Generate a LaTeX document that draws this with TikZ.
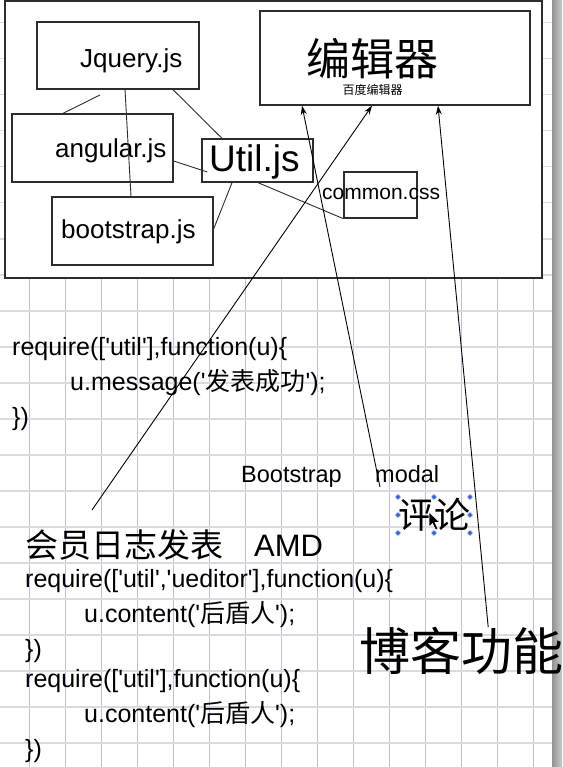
\documentclass[tikz,border=0pt]{standalone}
\usepackage{fontspec}
\setmainfont{Liberation Sans}[Ligatures=TeXOff]
\newfontfamily\cjk{Noto Sans CJK SC}
\usepackage{tikz}
\usetikzlibrary{arrows.meta}
\usepackage{xcolor}
\definecolor{gridh}{RGB}{218,218,224}
\definecolor{gridv}{RGB}{190,190,225}
\definecolor{boxline}{RGB}{45,45,45}
\definecolor{handle}{RGB}{55,95,200}
\tikzstyle{arrow} = [->,>={Stealth[length=9pt,width=6pt]},line width=0.9pt,color=black]
\tikzstyle{link} = [line width=0.9pt,color=boxline]
\tikzstyle{libbox} = [rectangle, draw=boxline, line width=1.3pt, fill=white, inner sep=0pt]
\tikzstyle{lbl} = [anchor=base west, inner sep=0pt]
\tikzstyle{code} = [anchor=base west, inner sep=0pt, font=\fontsize{25}{30}\selectfont]

\begin{document}
\begin{tikzpicture}[x=1pt, y=-1pt]
\useasboundingbox (0,0) rectangle (562,767);
% Grid paper
\foreach \gx in {0,...,14}
  \draw[gridv, line width=0.7pt] ({29.7+36*\gx},0) -- ({29.7+36*\gx},767);
\foreach \gy in {0,...,20}
  \draw[gridh, line width=1.6pt] (0,{22.7+36*\gy}) -- (552,{22.7+36*\gy});
\shade[left color=gray!85, right color=gray!40] (552,0) rectangle (562,767);

% Outer frame
\node[libbox, line width=1.6pt, minimum width=537pt, minimum height=277pt] (frame) at (273.5,139.5) {};

% Library boxes
\node[libbox, minimum width=162pt, minimum height=67pt] (jquery) at (118,55.5) {};
\node[libbox, minimum width=161pt, minimum height=68pt] (angular) at (92.5,148) {};
\node[libbox, minimum width=161pt, minimum height=68pt] (boot) at (132.5,231) {};
\node[libbox, minimum width=111pt, minimum height=43pt] (util) at (257.5,160.5) {};
\node[libbox, minimum width=270pt, minimum height=94pt] (editor) at (395,58) {};
\node[libbox, minimum width=73pt, minimum height=46pt] (css) at (380.5,195) {};

% Box texts
\node[lbl, font=\fontsize{26}{30}\selectfont] (jquery-t) at (80,67.5) {Jquery.js};
\node[lbl, font=\fontsize{26}{30}\selectfont] (angular-t) at (55,158) {angular.js};
\node[lbl, font=\fontsize{26}{30}\selectfont] (boot-t) at (61,238) {bootstrap.js};
\node[lbl, font=\fontsize{37}{40}\selectfont] (util-t) at (209,172) {Util.js};
\node[lbl, font=\fontsize{21}{24}\selectfont] (css-t) at (322,200) {common.css};
\node[font=\cjk\fontsize{44}{48}\selectfont] (editor-t) at (372,58.5) {编辑器};
\node[font=\cjk\fontsize{12}{14}\selectfont] (editor-s) at (372.5,90) {百度编辑器};

% Free ends
\coordinate (jqtail) at (100,95);
\coordinate (amdtail) at (92,510);
\coordinate (modaltail) at (380,487);

% Links between libraries
\draw[link] ([xshift=7pt]jquery.south) -- ([xshift=-1.5pt]boot.north);
\draw[link] (jqtail) -- ([xshift=-29.5pt]angular.north);
\draw[link] ([xshift=55pt]jquery.south) -- ([xshift=-35.5pt]util.north);
\draw[link] ([yshift=-13pt]angular.east) -- ([xshift=6pt,yshift=-11.5pt]util.west);
\draw[link] ([xshift=-25.5pt]util.south) -- ([yshift=2pt]boot.east);
\draw[link] ([xshift=0.5pt]util.south) -- (css.south west);

% Message code
\node[code] (msg1) at (12,355) {require(['util'],function(u)\{};
\node[code] (msg2) at (70,390) {u.message('{\cjk 发表成功}');};
\node[code] (msg3) at (12,425) {\})};

% Comment
\node[lbl, font=\fontsize{23.5}{28}\selectfont] (bs) at (241,482) {Bootstrap};
\node[lbl, font=\fontsize{23.5}{28}\selectfont] (modal) at (375,482) {modal};
\node[font=\cjk\fontsize{36}{40}\selectfont] (comment) at (434,515) {评论};
\foreach \hx/\hy in {398/497, 434/497, 470/497, 398/515, 470/515, 398/533, 434/533, 470/533}
  \filldraw[fill=handle, draw=handle!35, line width=0.8pt] (\hx,\hy) circle (2.4pt);
\filldraw[fill=black, draw=white, line width=0.6pt] (429,512) -- (429,527) -- (432.5,523.5) -- (435.5,530) -- (438,529) -- (435,522.5) -- (440,522.5) -- cycle;

% Member log code
\node[font=\cjk\fontsize{33}{36}\selectfont] (amd-cn) at (124,545) {会员日志发表};
\node[lbl, font=\fontsize{31}{34}\selectfont] (amd) at (254,556) {AMD};
\node[code] (log1) at (25,587) {require(['util','ueditor'],function(u)\{};
\node[code] (log2) at (84,622) {u.content('{\cjk 后盾人}');};
\node[code] (log3) at (25,657) {\})};
\node[code] (log4) at (25,687) {require(['util'],function(u)\{};
\node[code] (log5) at (84,722) {u.content('{\cjk 后盾人}');};
\node[code] (log6) at (25,757) {\})};

% Blog
\node[anchor=west, inner sep=0pt, font=\cjk\fontsize{51}{56}\selectfont] (blog) at (359,651) {博客功能};

% Arrows to the editor
\draw[arrow] (amdtail) -- ([xshift=-23pt]editor.south);
\draw[arrow] (modaltail) -- ([xshift=-93pt]editor.south);
\draw[arrow] ([xshift=27pt]blog.north) -- ([xshift=43pt]editor.south);
\end{tikzpicture}
\end{document}
